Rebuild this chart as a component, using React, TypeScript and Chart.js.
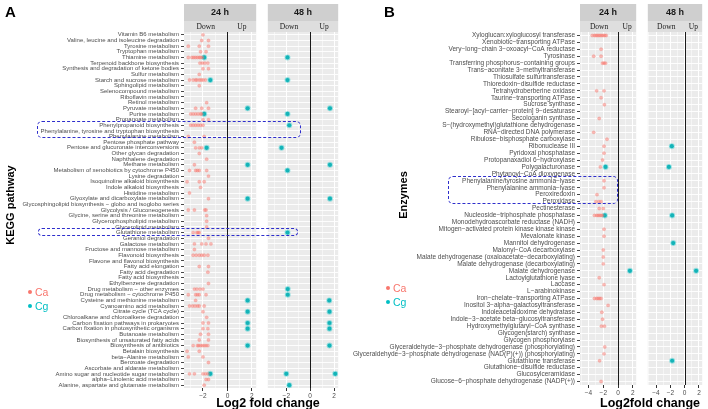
import React, { useEffect, useRef } from "react";
import { Chart, registerables } from "chart.js";
Chart.register(...registerables);

const SANS = "'Liberation Sans', Arial, Helvetica, sans-serif";
const SERIF = "'Liberation Serif', 'Times New Roman', serif";

const PATHWAYS = [
  "Vitamin B6 metabolism", "Valine, leucine and isoleucine degradation", "Tyrosine metabolism", "Tryptophan metabolism",
  "Thiamine metabolism", "Terpenoid backbone biosynthesis", "Synthesis and degradation of ketone bodies", "Sulfur metabolism",
  "Starch and sucrose metabolism", "Sphingolipid metabolism", "Selenocompound metabolism", "Riboflavin metabolism",
  "Retinol metabolism", "Pyruvate metabolism", "Purine metabolism", "Propanoate metabolism",
  "Phenylpropanoid biosynthesis", "Phenylalanine, tyrosine and tryptophan biosynthesis", "Phenylalanine metabolism", "Pentose phosphate pathway",
  "Pentose and glucuronate interconversions", "Other glycan degradation", "Naphthalene degradation", "Methane metabolism",
  "Metabolism of xenobiotics by cytochrome P450", "Lysine degradation", "Isoquinoline alkaloid biosynthesis", "Indole alkaloid biosynthesis",
  "Histidine metabolism", "Glyoxylate and dicarboxylate metabolism", "Glycosphingolipid biosynthesis \u2212 globo and isoglobo series", "Glycolysis / Gluconeogenesis",
  "Glycine, serine and threonine metabolism", "Glycerophospholipid metabolism", "Glycerolipid metabolism", "Glutathione metabolism",
  "Geraniol degradation", "Galactose metabolism", "Fructose and mannose metabolism", "Flavonoid biosynthesis",
  "Flavone and flavonol biosynthesis", "Fatty acid elongation", "Fatty acid degradation", "Fatty acid biosynthesis",
  "Ethylbenzene degradation", "Drug metabolism \u2212 other enzymes", "Drug metabolism \u2212 cytochrome P450", "Cysteine and methionine metabolism",
  "Cyanoamino acid metabolism", "Citrate cycle (TCA cycle)", "Chloroalkane and chloroalkene degradation", "Carbon fixation pathways in prokaryotes",
  "Carbon fixation in photosynthetic organisms", "Butanoate metabolism", "Biosynthesis of unsaturated fatty acids", "Biosynthesis of antibiotics",
  "Betalain biosynthesis", "beta\u2212Alanine metabolism", "Benzoate degradation", "Ascorbate and aldarate metabolism",
  "Amino sugar and nucleotide sugar metabolism", "alpha\u2212Linolenic acid metabolism", "Alanine, aspartate and glutamate metabolism",
];

const ENZYMES = [
  "Xyloglucan:xyloglucosyl transferase", "Xenobiotic\u2212transporting ATPase", "Very\u2212long\u2212chain 3\u2212oxoacyl\u2212CoA reductase", "Tyrosinase",
  "Transferring phosphorus\u2212containing groups", "Trans\u2212aconitate 3\u2212methyltransferase", "Thiosulfate sulfurtransferase", "Thioredoxin\u2212disulfide reductase",
  "Tetrahydroberberine oxidase", "Taurine\u2212transporting ATPase", "Sucrose synthase", "Stearoyl\u2212[acyl\u2212carrier\u2212protein] 9\u2212desaturase",
  "Secologanin synthase", "S\u2212(hydroxymethyl)glutathione dehydrogenase", "RNA\u2212directed DNA polymerase", "Ribulose\u2212bisphosphate carboxylase",
  "Ribonuclease III", "Pyridoxal phosphatase", "Protopanaxadiol 6\u2212hydroxylase", "Polygalacturonase",
  "Phytanoyl\u2212CoA dioxygenase", "Phenylalanine/tyrosine ammonia\u2212lyase", "Phenylalanine ammonia\u2212lyase", "Peroxiredoxin",
  "Peroxidase", "Pectinesterase", "Nucleoside\u2212triphosphate phosphatase", "Monodehydroascorbate reductase (NADH)",
  "Mitogen\u2212activated protein kinase kinase kinase", "Mevalonate kinase", "Mannitol dehydrogenase", "Malonyl\u2212CoA decarboxylase",
  "Malate dehydrogenase (oxaloacetate\u2212decarboxylating)", "Malate dehydrogenase (decarboxylating)", "Malate dehydrogenase", "Lactoylglutathione lyase",
  "Laccase", "L\u2212arabinokinase", "Iron\u2212chelate\u2212transporting ATPase", "Inositol 3\u2212alpha\u2212galactosyltransferase",
  "Indoleacetaldoxime dehydratase", "Indole\u22123\u2212acetate beta\u2212glucosyltransferase", "Hydroxymethylglutaryl\u2212CoA synthase", "Glycogen(starch) synthase",
  "Glycogen phosphorylase", "Glyceraldehyde\u22123\u2212phosphate dehydrogenase (phosphorylating)", "Glyceraldehyde\u22123\u2212phosphate dehydrogenase (NAD(P)(+)) (phosphorylating)", "Glutathione transferase",
  "Glutathione\u2212disulfide reductase", "Glucosylceramidase", "Glucose\u22126\u2212phosphate dehydrogenase (NADP(+))",
];

// [row (1-based position in the category list), log2 fold change]
const A_CA_24H: [number, number][] = [
  [1, -2.0], [2, -2.1], [2, -1.55], [3, -3.2], [3, -2.3], [3, -1.55], [4, -2.2], [4, -1.75],
  [5, -3.2], [5, -2.9], [5, -2.75], [5, -2.6], [5, -2.45], [5, -2.3], [5, -2.2], [5, -2.05],
  [6, -2.25], [6, -2.05], [6, -1.85], [6, -1.6], [7, -2.0], [7, -1.55], [8, -2.3],
  [9, -3.1], [9, -2.8], [9, -2.6], [9, -2.5], [9, -2.3], [9, -2.15], [9, -2.0], [9, -1.8],
  [10, -2.3], [13, -1.7], [14, -2.6], [14, -2.1], [14, -1.55],
  [15, -3.0], [15, -2.8], [15, -2.6], [15, -2.4], [15, -2.2], [15, -2.1], [16, -2.0], [16, -1.55],
  [17, -3.0], [17, -2.8], [17, -2.6], [17, -2.4], [17, -2.2], [17, -2.0],
  [19, -3.2], [19, -1.9], [20, -2.7], [21, -2.6], [21, -2.3], [21, -2.1], [22, -2.3], [23, -1.7], [24, -2.7],
  [25, -3.1], [25, -2.6], [25, -2.45], [25, -2.3], [25, -1.7], [26, -1.55], [27, -3.3], [27, -2.3], [27, -1.9],
  [28, -2.2], [29, -3.1], [30, -1.55], [32, -3.2], [32, -2.7], [32, -1.85], [32, -1.75],
  [33, -1.7], [34, -1.7], [35, -1.7], [36, -2.8], [36, -2.5], [36, -2.4], [36, -2.3], [37, -1.55],
  [38, -2.7], [38, -2.1], [38, -1.75], [38, -1.35], [39, -2.7],
  [40, -2.8], [40, -2.55], [40, -2.3], [40, -2.1], [40, -1.9], [40, -1.6], [42, -2.3], [42, -1.55], [43, -1.6], [45, -1.55],
  [46, -2.7], [46, -2.5], [46, -2.25], [46, -2.0], [47, -3.2], [47, -2.6], [47, -2.45], [47, -2.3], [47, -1.75], [48, -2.6],
  [49, -3.1], [49, -2.85], [49, -2.65], [49, -2.45], [49, -2.3], [49, -1.9], [50, -2.0], [51, -1.7],
  [52, -2.0], [52, -1.55], [53, -2.0], [53, -1.6], [54, -2.2], [54, -1.55], [55, -2.3], [55, -1.55],
  [56, -2.8], [56, -2.45], [56, -2.35], [56, -2.2], [56, -2.05], [56, -1.9], [56, -1.75], [56, -1.6],
  [57, -3.3], [57, -2.3], [58, -3.2], [58, -2.0], [59, -1.55],
  [61, -3.1], [61, -2.7], [61, -2.0], [61, -1.8], [61, -1.6], [62, -1.75], [62, -1.55], [63, -1.9],
];
const A_CG_24H: [number, number][] = [
  [5, -1.9], [9, -1.4], [14, 1.65], [15, -1.9], [21, -1.7], [24, 1.65], [30, 1.65], [48, 1.65],
  [50, 1.65], [52, 1.65], [53, 1.65], [56, 1.65], [61, -1.4],
];
const A_CA_48H: [number, number][] = [];
const A_CG_48H: [number, number][] = [
  [5, -1.9], [9, -1.9], [14, 1.66], [15, -1.9], [17, -1.75], [21, -2.4], [24, 1.66], [25, -1.9], [30, 1.66],
  [36, -1.9], [46, -1.88], [47, -1.88], [48, 1.6], [50, 1.62], [52, 1.62], [53, 1.62], [56, 1.62],
  [61, -2.0], [61, 2.1], [63, -1.75],
];

const B_CA_24H: [number, number][] = [
  [1, -3.5], [1, -3.2], [1, -3.0], [1, -2.8], [1, -2.6], [1, -2.4], [1, -2.2], [1, -2.0], [1, -1.8], [1, -1.6],
  [3, -2.3], [4, -3.3], [4, -2.3], [5, -2.1], [5, -1.9], [5, -1.7], [9, -2.9], [9, -1.9], [10, -2.3], [11, -1.85],
  [13, -2.55], [15, -3.3], [16, -1.5], [17, -1.9], [18, -1.9], [19, -2.1], [20, -2.4], [22, -1.9], [23, -1.9],
  [24, -2.85], [25, -3.0], [25, -2.6], [25, -2.3], [26, -2.55], [26, -2.0],
  [27, -3.2], [27, -2.9], [27, -2.7], [27, -2.5], [27, -2.3], [27, -2.1], [29, -1.9], [30, -1.9],
  [32, -2.0], [33, -2.0], [34, -2.0], [36, -2.55], [37, -1.9],
  [39, -3.2], [39, -2.9], [39, -2.7], [39, -2.5], [39, -2.3], [40, -1.35], [41, -2.2], [42, -2.1],
  [43, -2.25], [43, -1.85], [46, -1.8], [47, -1.9], [48, -2.5], [51, -2.3],
];
const B_CG_24H: [number, number][] = [[20, -1.7], [27, -1.8], [35, 1.6]];
const B_CA_48H: [number, number][] = [];
const B_CG_48H: [number, number][] = [[17, -1.8], [20, -2.2], [27, -1.75], [31, -1.6], [35, 1.6], [48, -1.75]];

const A_X_RANGE: [number, number] = [-3.55, 2.35];
const B_X_RANGE: [number, number] = [-5.15, 2.45];
const TIMES = ["24 h", "48 h"];
const SIDES = ["Down", "Up"];
const SERIES = ["Ca", "Cg"];
const COLORS: Record<string, string> = { Ca: "#F8766D", Cg: "#00BFC4" };

type Pair = [number, number];

interface FacetProps {
  left: number; top: number; width: number; height: number;
  cats: string[]; ca: Pair[]; cg: Pair[]; range: [number, number]; title: string;
  yWidth: number; padLeft: number; padRight: number; labelSize: number; xAxisH: number; showLabels: boolean;
}

function FacetChart(p: FacetProps) {
  const ref = useRef<HTMLCanvasElement | null>(null);
  useEffect(() => {
    if (!ref.current) return;
    const toPts = (arr: Pair[]) => arr.map(([r, v]) => ({ x: v, y: p.cats[r - 1] }));
    const stripTop = 4, stripMid = 21;
    const facetPlugin = {
      id: "facetDeco",
      beforeDraw(chart: any) {
        const { ctx, chartArea: a } = chart;
        ctx.save();
        ctx.fillStyle = "#EBEBEB";
        ctx.fillRect(a.left, a.top, a.right - a.left, a.bottom - a.top);
        ctx.restore();
      },
      beforeDatasetsDraw(chart: any) {
        const { ctx, chartArea: a, scales } = chart;
        const x0 = Math.round(scales.x.getPixelForValue(0)) + 0.5;
        ctx.save();
        ctx.strokeStyle = "#1A1A1A";
        ctx.lineWidth = 1;
        ctx.beginPath();
        ctx.moveTo(x0, a.top);
        ctx.lineTo(x0, a.bottom);
        ctx.stroke();
        ctx.restore();
      },
      afterDraw(chart: any) {
        const { ctx, chartArea: a, scales } = chart;
        const w = a.right - a.left;
        ctx.save();
        ctx.fillStyle = "#CFCFCF";
        ctx.fillRect(a.left, stripTop, w, stripMid - stripTop);
        ctx.fillStyle = "#DEDEDE";
        ctx.fillRect(a.left, stripMid, w, a.top - stripMid);
        ctx.fillStyle = "#1A1A1A";
        ctx.textAlign = "center";
        ctx.textBaseline = "middle";
        ctx.font = `bold 9px ${SANS}`;
        ctx.fillText(p.title, (a.left + a.right) / 2, (stripTop + stripMid) / 2 + 0.5);
        const x0 = scales.x.getPixelForValue(0);
        ctx.font = `7.5px ${SERIF}`;
        ctx.fillText(SIDES[0], (a.left + x0) / 2, (stripMid + a.top) / 2 + 0.5);
        ctx.fillText(SIDES[1], (x0 + a.right) / 2, (stripMid + a.top) / 2 + 0.5);
        ctx.restore();
      },
    };
    const chart = new Chart(ref.current, {
      type: "scatter",
      data: {
        datasets: [
          {
            label: SERIES[0], data: toPts(p.ca),
            backgroundColor: "rgba(248,118,109,0.5)", borderColor: "rgba(248,118,109,0.25)",
            borderWidth: 0.6, pointRadius: 1.7,
          },
          {
            label: SERIES[1], data: toPts(p.cg),
            backgroundColor: "rgba(0,170,175,0.9)", borderColor: "rgba(0,191,196,0.35)",
            borderWidth: 1.8, pointRadius: 2.1,
          },
        ],
      },
      options: {
        animation: false,
        responsive: false,
        maintainAspectRatio: false,
        layout: { padding: { left: p.padLeft, right: p.padRight, top: 32, bottom: 0 } },
        plugins: { legend: { display: false }, tooltip: { enabled: false } },
        scales: {
          x: {
            type: "linear",
            min: p.range[0],
            max: p.range[1],
            border: { display: false },
            grid: {
              color: "#FFFFFF",
              lineWidth: (c: any) => (c.tick && Math.abs(Math.round(c.tick.value)) % 2 === 1 ? 0.5 : 1),
              tickLength: 3,
              tickColor: (c: any) => (c.tick && Math.abs(Math.round(c.tick.value)) % 2 === 1 ? "rgba(0,0,0,0)" : "#333333"),
            },
            ticks: {
              stepSize: 1,
              includeBounds: false,
              autoSkip: false,
              maxRotation: 0,
              padding: 1,
              color: "#4D4D4D",
              font: { size: 6.5, family: SANS },
              callback: (v: any) => {
                const n = Math.round(Number(v));
                if (Math.abs(n) % 2 === 1) return "";
                return n < 0 ? "\u2212" + Math.abs(n) : String(n);
              },
            },
            afterFit: (s: any) => { s.height = p.xAxisH; s.paddingLeft = 0; s.paddingRight = 0; },
          },
          y: {
            type: "category",
            labels: p.cats,
            offset: true,
            border: { display: false },
            grid: {
              color: "#FFFFFF",
              lineWidth: 0.9,
              offset: false,
              drawTicks: p.showLabels,
              tickLength: 3,
              tickColor: "#333333",
            },
            ticks: {
              display: p.showLabels,
              autoSkip: false,
              padding: 2,
              color: "#4D4D4D",
              font: { size: p.labelSize, family: SANS },
            },
            afterFit: (s: any) => { s.width = p.yWidth; s.paddingTop = 0; s.paddingBottom = 0; },
          },
        },
      } as any,
      plugins: [facetPlugin],
    });
    return () => chart.destroy();
  }, []);
  return (
    <canvas
      ref={ref}
      width={p.width}
      height={p.height}
      style={{ position: "absolute", left: p.left, top: p.top, width: p.width, height: p.height }}
    />
  );
}

const abs = (extra: React.CSSProperties): React.CSSProperties => ({ position: "absolute", whiteSpace: "nowrap", ...extra });

function Legend({ left, top }: { left: number; top: number }) {
  return (
    <>
      {SERIES.map((s, i) => (
        <div key={s} style={abs({ left, top: top + i * 13.5, height: 12, display: "flex", alignItems: "center" })}>
          <div style={{ width: 4, height: 4, borderRadius: 2, background: COLORS[s], marginRight: 3 }} />
          <span style={{ color: COLORS[s], fontSize: 10.5, fontFamily: SANS, lineHeight: "12px" }}>{s}</span>
        </div>
      ))}
    </>
  );
}

function DashBox({ left, top, width, height }: { left: number; top: number; width: number; height: number }) {
  return (
    <div
      style={abs({
        left, top, width, height, boxSizing: "border-box",
        border: "1.6px dashed #2E2ECC", borderRadius: 5,
      })}
    />
  );
}

export default function App() {
  return (
    <div style={{ position: "absolute", left: 0, top: 0, width: 708, height: 409, background: "#FFFFFF", overflow: "hidden", fontFamily: SANS }}>
      <FacetChart left={0} top={0} width={262} height={409} cats={PATHWAYS} ca={A_CA_24H} cg={A_CG_24H}
        range={A_X_RANGE} title={TIMES[0]} yWidth={184} padLeft={0} padRight={3} labelSize={6} xAxisH={21} showLabels={true} />
      <FacetChart left={262} top={0} width={82} height={409} cats={PATHWAYS} ca={A_CA_48H} cg={A_CG_48H}
        range={A_X_RANGE} title={TIMES[1]} yWidth={0} padLeft={4} padRight={3} labelSize={6} xAxisH={21} showLabels={false} />
      <FacetChart left={340} top={0} width={302} height={409} cats={ENZYMES} ca={B_CA_24H} cg={B_CG_24H}
        range={B_X_RANGE} title={TIMES[0]} yWidth={240} padLeft={0} padRight={3} labelSize={6.5} xAxisH={24} showLabels={true} />
      <FacetChart left={642} top={0} width={66} height={409} cats={ENZYMES} ca={B_CA_48H} cg={B_CG_48H}
        range={B_X_RANGE} title={TIMES[1]} yWidth={0} padLeft={4} padRight={3} labelSize={6.5} xAxisH={24} showLabels={false} />

      <div style={abs({ left: 5, top: 3, fontSize: 15, fontWeight: "bold", color: "#000" })}>A</div>
      <div style={abs({ left: 384, top: 3, fontSize: 15, fontWeight: "bold", color: "#000" })}>B</div>

      <div style={abs({ left: 10, top: 205, transform: "translate(-50%, -50%) rotate(-90deg)", fontSize: 11, fontWeight: "bold", color: "#000" })}>KEGG pathway</div>
      <div style={abs({ left: 403, top: 195, transform: "translate(-50%, -50%) rotate(-90deg)", fontSize: 11, fontWeight: "bold", color: "#000" })}>Enzymes</div>

      <div style={abs({ left: 268, top: 403, transform: "translate(-50%, -50%)", fontSize: 12.5, fontWeight: "bold", color: "#000" })}>Log2 fold change</div>
      <div style={abs({ left: 650, top: 403, transform: "translate(-50%, -50%)", fontSize: 12.5, fontWeight: "bold", color: "#000" })}>Log2fold change</div>

      <Legend left={28} top={286} />
      <Legend left={386} top={282} />

      <DashBox left={37} top={121} width={264} height={17} />
      <DashBox left={38} top={228} width={260} height={8} />
      <DashBox left={448} top={176} width={170} height={28} />
    </div>
  );
}
